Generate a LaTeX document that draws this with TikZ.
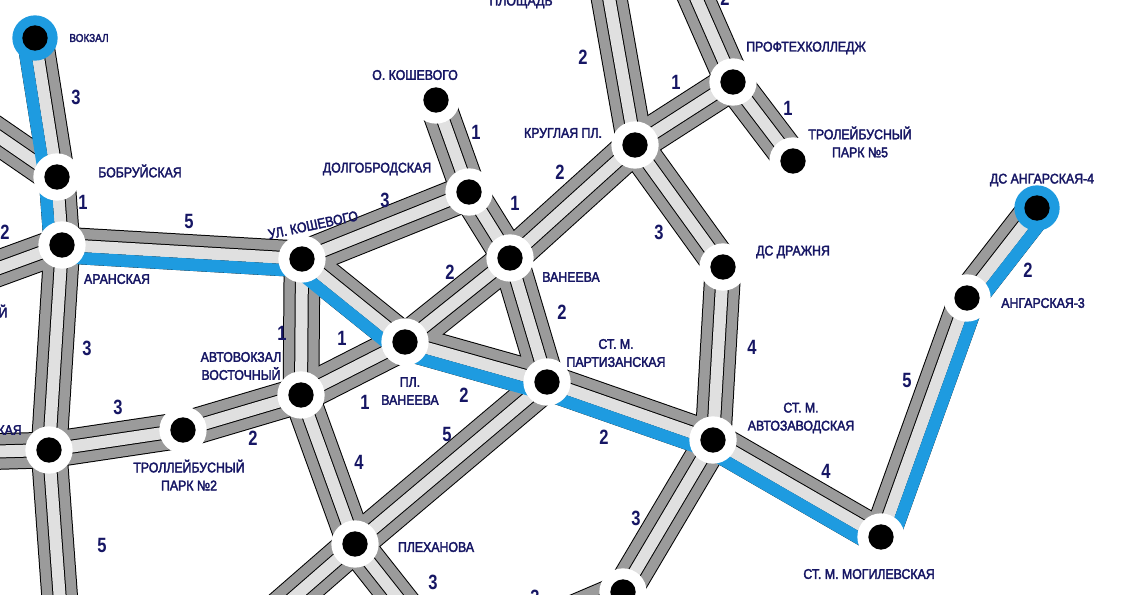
\documentclass[tikz,border=0pt]{standalone}
\usepackage{fontspec}
\setmainfont{Liberation Sans}[FakeStretch=0.88]
\newfontfamily\lblfont{Liberation Sans}[FakeStretch=0.88,FakeBold=2.5]
\newfontfamily\numfont{Liberation Sans Bold}[FakeStretch=0.8]
\usetikzlibrary{calc}
\definecolor{navy}{RGB}{22,22,100}
\definecolor{mblue}{RGB}{30,155,224}
\definecolor{dgray}{RGB}{155,155,155}
\definecolor{lgray}{RGB}{224,224,224}
\begin{document}
\begin{tikzpicture}[x=0.75pt,y=-0.75pt,
 lbl/.style={text=navy,font=\lblfont\fontsize{10.5}{13.5}\selectfont,inner sep=0pt,align=center},
 slbl/.style={text=navy,font=\lblfont\fontsize{8.5}{10}\selectfont,inner sep=0pt},
 num/.style={text=navy,font=\numfont\fontsize{15.5}{15.5}\selectfont,inner sep=0pt},
 ring/.style={circle,fill=white,minimum size=35.5pt,inner sep=0pt},
 bring/.style={circle,fill=mblue,minimum size=34pt,inner sep=0pt},
 dot/.style={circle,fill=black,minimum size=19pt,inner sep=0pt},
]
\clip (0,0) rectangle (1126,595);
\fill[white] (0,0) rectangle (1126,595);
% stations
\coordinate (vok) at (35,38);
\coordinate (bob) at (57,177);
\coordinate (ara) at (62,245);
\coordinate (blt) at (49,450);
\coordinate (kos) at (302,259);
\coordinate (dol) at (469,192);
\coordinate (oko) at (436,100);
\coordinate (van) at (510,258);
\coordinate (kru) at (635,145);
\coordinate (pro) at (733,82);
\coordinate (tp5) at (793,161);
\coordinate (dra) at (723,267);
\coordinate (plv) at (405,342);
\coordinate (par) at (547,382);
\coordinate (avv) at (301,395);
\coordinate (tp2) at (183,430);
\coordinate (avz) at (713,440);
\coordinate (ple) at (355,544);
\coordinate (mog) at (881,537);
\coordinate (an3) at (967,298);
\coordinate (an4) at (1037,208);
\coordinate (bot) at (623,592);
% free ends
\coordinate (e1) at (-20,124);
\coordinate (e2) at (-20,275);
\coordinate (e3) at (-20,452);
\coordinate (e4) at (61,615);
\coordinate (e5) at (605,-25);
\coordinate (e6) at (686,-25);
\coordinate (e7) at (262,625);
\coordinate (e8) at (415,620);
\coordinate (e9) at (520,636);
\def\edges{vok/bob,bob/e1,bob/ara,ara/e2,ara/kos,ara/blt,blt/e3,blt/e4,blt/tp2,tp2/avv,avv/kos,avv/plv,kos/plv,kos/dol,oko/dol,dol/van,van/kru,van/plv,van/par,plv/par,par/avz,par/ple,avv/ple,ple/e7,ple/e8,kru/e5,kru/pro,pro/e6,pro/tp5,kru/dra,dra/avz,avz/mog,mog/an3,an3/an4,avz/bot,bot/e9}
\foreach \a/\b in \edges {\draw[black,line width=27.5pt] (\a)--(\b);}
\foreach \a/\b in \edges {\draw[dgray,line width=26pt] (\a)--(\b);}
\foreach \a/\b in \edges {\draw[black,line width=10.5pt] (\a)--(\b);}
\foreach \a/\b in \edges {\draw[lgray,line width=9pt] (\a)--(\b);}
\def\bluepath{vok/bob,bob/ara,ara/kos,kos/plv,plv/par,par/avz,avz/mog,mog/an3,an3/an4}
\foreach \a/\b in \bluepath {\draw[mblue,line width=9.2pt] ($(\a)!9.1pt!-90:(\b)$) -- ($(\b)!9.1pt!90:(\a)$);}
% rings
\foreach \s in {bob,ara,blt,kos,dol,oko,van,kru,pro,tp5,dra,plv,par,avv,tp2,avz,ple,mog,an3,bot} {\node[ring] (r-\s) at (\s) {};}
\node[bring] (r-vok) at (vok) {};
\node[bring] (r-an4) at (an4) {};
\foreach \s in {vok,bob,ara,blt,kos,dol,oko,van,kru,pro,tp5,dra,plv,par,avv,tp2,avz,ple,mog,an3,an4,bot} {\node[dot] (d-\s) at (\s) {};}
% station labels
\node[slbl] (l-vok) at (89,38) {ВОКЗАЛ};
\node[lbl] (l-bob) at (140,171) {БОБРУЙСКАЯ};
\node[lbl] (l-ara) at (117,279) {АРАНСКАЯ};
\node[lbl,rotate=12] (l-kos) at (313,225) {УЛ. КОШЕВОГО};
\node[lbl] (l-dol) at (377,169) {ДОЛГОБРОДСКАЯ};
\node[lbl] (l-oko) at (415,75) {О. КОШЕВОГО};
\node[lbl] (l-van) at (571,277) {ВАНЕЕВА};
\node[lbl] (l-kru) at (563,133) {КРУГЛАЯ ПЛ.};
\node[lbl] (l-pro) at (806,48) {ПРОФТЕХКОЛЛЕДЖ};
\node[lbl] (l-tp5) at (860,142) {ТРОЛЕЙБУСНЫЙ\\ПАРК №5};
\node[lbl] (l-dra) at (793,252) {ДС ДРАЖНЯ};
\node[lbl] (l-an4) at (1042,180) {ДС АНГАРСКАЯ-4};
\node[lbl] (l-an3) at (1043,303) {АНГАРСКАЯ-3};
\node[lbl] (l-par) at (616,353) {СТ. М.\\ПАРТИЗАНСКАЯ};
\node[lbl] (l-plv) at (410,391) {ПЛ.\\ВАНЕЕВА};
\node[lbl] (l-avv) at (241,366) {АВТОВОКЗАЛ\\ВОСТОЧНЫЙ};
\node[lbl] (l-tp2) at (189,475) {ТРОЛЛЕЙБУСНЫЙ\\ПАРК №2};
\node[lbl] (l-avz) at (801,418) {СТ. М.\\АВТОЗАВОДСКАЯ};
\node[lbl] (l-ple) at (436,547) {ПЛЕХАНОВА};
\node[lbl] (l-mog) at (869,574) {СТ. М. МОГИЛЕВСКАЯ};
\node[lbl] (l-plo) at (521,2) {ПЛОЩАДЬ};
\node[lbl,anchor=east] (l-blt) at (22,430) {КАЯ};
\node[lbl] (l-y) at (3,311) {Й};
% segment numbers
\node[num] (n1) at (76,97) {3};
\node[num] (n2) at (83,202) {1};
\node[num] (n3) at (189,221) {5};
\node[num] (n4) at (5,232) {2};
\node[num] (n5) at (87,348) {3};
\node[num] (n6) at (118,407) {3};
\node[num] (n7) at (253,438) {2};
\node[num] (n8) at (102,545) {5};
\node[num] (n9) at (385,200) {3};
\node[num] (n10) at (476,132) {1};
\node[num] (n11) at (515,203) {1};
\node[num] (n12) at (560,172) {2};
\node[num] (n13) at (583,57) {2};
\node[num] (n14) at (676,82) {1};
\node[num] (n15) at (725,-2) {2};
\node[num] (n16) at (788,108) {1};
\node[num] (n17) at (659,232) {3};
\node[num] (n18) at (450,272) {2};
\node[num] (n19) at (562,312) {2};
\node[num] (n20) at (282,333) {1};
\node[num] (n21) at (342,338) {1};
\node[num] (n22) at (365,402) {1};
\node[num] (n23) at (464,395) {2};
\node[num] (n24) at (447,434) {5};
\node[num] (n25) at (359,462) {4};
\node[num] (n26) at (604,437) {2};
\node[num] (n27) at (752,347) {4};
\node[num] (n28) at (826,471) {4};
\node[num] (n29) at (907,380) {5};
\node[num] (n30) at (1028,270) {2};
\node[num] (n31) at (636,518) {3};
\node[num] (n32) at (433,582) {3};
\node[num] (n33) at (535,597) {3};
\end{tikzpicture}
\end{document}
